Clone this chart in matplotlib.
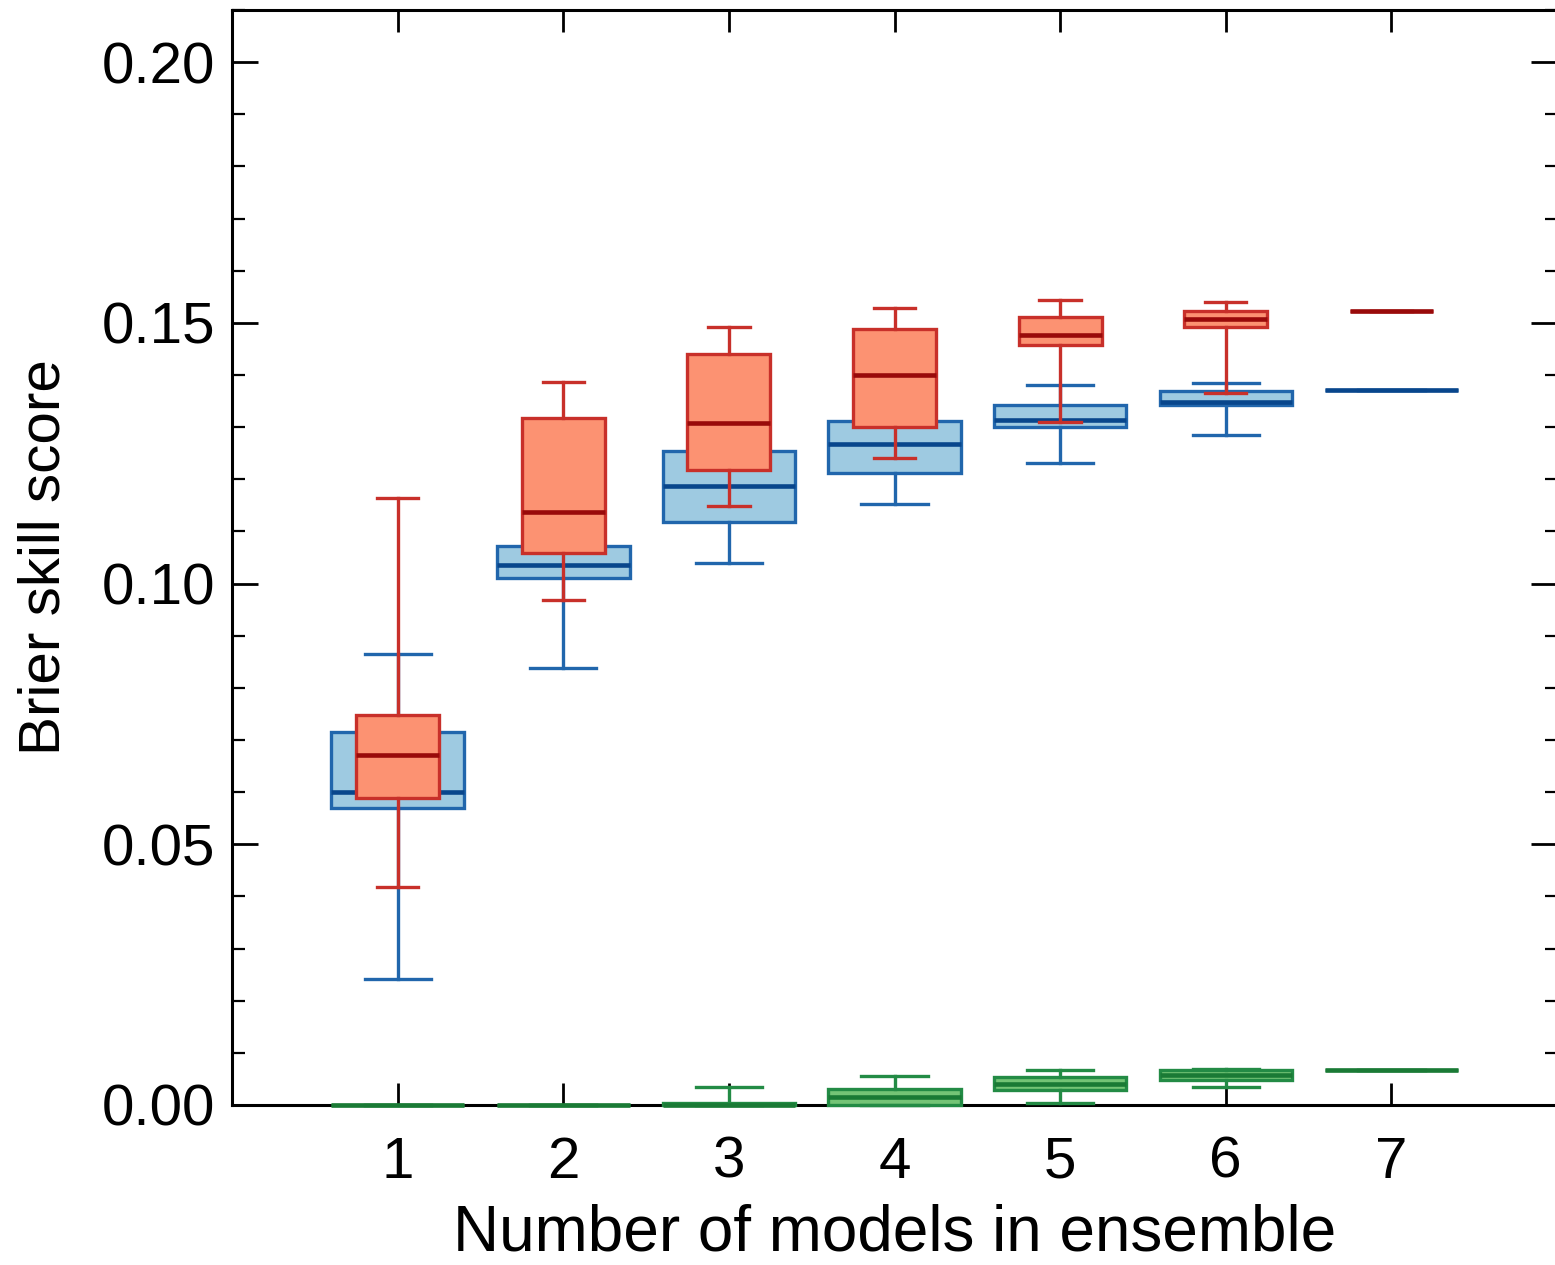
import matplotlib
matplotlib.use("Agg")
import matplotlib.pyplot as plt
from matplotlib.ticker import MultipleLocator, FormatStrFormatter

plt.rcParams['font.family'] = ['Liberation Sans', 'DejaVu Sans']

# ensemble sizes
n_models = [1, 2, 3, 4, 5, 6, 7]

# blue series: whisker low, q1, median, q3, whisker high
blue_wlo = [0.0241, 0.0839, 0.1040, 0.1153, 0.1232, 0.1285, 0.1372]
blue_q1  = [0.0569, 0.1011, 0.1119, 0.1213, 0.1301, 0.1343, 0.1372]
blue_med = [0.0600, 0.1036, 0.1188, 0.1268, 0.1314, 0.1349, 0.1372]
blue_q3  = [0.0716, 0.1073, 0.1255, 0.1312, 0.1343, 0.1370, 0.1372]
blue_whi = [0.0864, 0.1120, 0.1300, 0.1360, 0.1381, 0.1385, 0.1372]

# red series
red_wlo = [0.0418, 0.0969, 0.1149, 0.1241, 0.1310, 0.1366, 0.1523]
red_q1  = [0.0588, 0.1059, 0.1218, 0.1301, 0.1458, 0.1492, 0.1523]
red_med = [0.0672, 0.1138, 0.1308, 0.1400, 0.1477, 0.1508, 0.1523]
red_q3  = [0.0747, 0.1318, 0.1441, 0.1489, 0.1511, 0.1523, 0.1523]
red_whi = [0.1165, 0.1387, 0.1492, 0.1529, 0.1544, 0.1540, 0.1523]

# green series
green_wlo = [0.0000, 0.0000, 0.0000, 0.0000, 0.0004, 0.0034, 0.0067]
green_q1  = [0.0000, 0.0000, 0.0000, 0.0000, 0.0029, 0.0048, 0.0067]
green_med = [0.0000, 0.0000, 0.0000, 0.0015, 0.0040, 0.0057, 0.0067]
green_q3  = [0.0000, 0.0000, 0.0003, 0.0031, 0.0054, 0.0067, 0.0067]
green_whi = [0.0000, 0.0000, 0.0034, 0.0056, 0.0067, 0.0069, 0.0067]

x_label = 'Number of models in ensemble'
y_label = 'Brier skill score'


def make_stats(wlo, q1, med, q3, whi):
    return [dict(whislo=a, q1=b, med=c, q3=d, whishi=e, fliers=[])
            for a, b, c, d, e in zip(wlo, q1, med, q3, whi)]


def draw(ax, stats, width, fill, edge, median, z):
    ax.bxp(stats, positions=n_models, widths=width, capwidths=width / 2,
           patch_artist=True, showfliers=False, manage_ticks=False, zorder=z,
           boxprops=dict(facecolor=fill, edgecolor=edge, linewidth=2.4),
           medianprops=dict(color=median, linewidth=3.3, solid_capstyle='butt'),
           whiskerprops=dict(color=edge, linewidth=2.4),
           capprops=dict(color=edge, linewidth=2.4))


fig = plt.figure(figsize=(15.55, 12.65), dpi=100)
ax = fig.add_axes([232 / 1555, 160 / 1265, 1325 / 1555, 1095 / 1265])

draw(ax, make_stats(blue_wlo, blue_q1, blue_med, blue_q3, blue_whi),
     0.8, '#9ecae1', '#2166ac', '#08468c', 3)
draw(ax, make_stats(red_wlo, red_q1, red_med, red_q3, red_whi),
     0.5, '#fc9272', '#c8302a', '#990a0a', 4)
draw(ax, make_stats(green_wlo, green_q1, green_med, green_q3, green_whi),
     0.8, '#74c476', '#238b45', '#1a7a35', 5)

# let the boxes sitting on zero spill over the bottom spine
for ln in ax.lines:
    ln.set_clip_on(False)
for p in ax.patches:
    p.set_clip_on(False)

ax.set_xlim(0, 8)
ax.set_ylim(0, 0.21)
ax.set_xticks(n_models)
ax.set_xticklabels([str(n) for n in n_models])
ax.yaxis.set_major_locator(MultipleLocator(0.05))
ax.yaxis.set_minor_locator(MultipleLocator(0.01))
ax.yaxis.set_major_formatter(FormatStrFormatter('%.2f'))

ax.tick_params(axis='both', which='both', direction='in', top=True, right=True)
ax.tick_params(axis='x', which='major', length=16, width=2, labelsize=42, pad=22)
ax.tick_params(axis='y', which='major', length=19, width=2, labelsize=42, pad=12)
ax.tick_params(axis='y', which='minor', length=9, width=1.6)
for s in ax.spines.values():
    s.set_linewidth(2.2)

ax.set_xlabel(x_label, fontsize=46, labelpad=10)
ax.set_ylabel(y_label, fontsize=42, labelpad=22)

fig.savefig('out.png', dpi=100)
